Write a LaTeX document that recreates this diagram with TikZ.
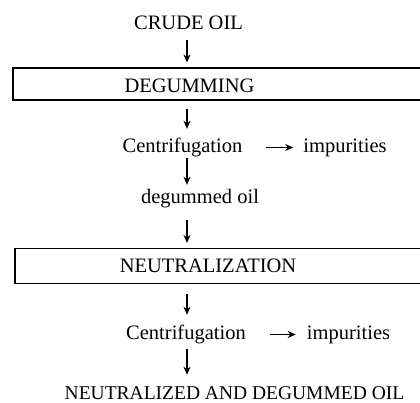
\documentclass[tikz,border=0pt]{standalone}
\usepackage{fontspec}
\setmainfont{Liberation Serif}
\usetikzlibrary{arrows.meta}
\begin{document}
\begin{tikzpicture}[x=1pt,y=-1pt,
  txt/.style={inner sep=0pt,text height=14pt,text depth=5pt,anchor=base,font=\fontsize{20.5}{24}\selectfont},
  procbox/.style={draw,line width=1.1pt,minimum width=412pt,inner sep=0pt},
  arr/.style={line width=1.2pt,-{Stealth[length=8pt,width=7pt,inset=2.5pt]}}]
\useasboundingbox (0,0) rectangle (420,402);
\clip (0,0) rectangle (420,402);
\coordinate (ax) at (187,0);
\node[txt] (crude) at (188.5,29) {CRUDE OIL};
\node[procbox,minimum height=32pt] (degbox) at (219,84) {};
\node[txt] (deg) at (189.5,92) {DEGUMMING};
\node[txt] (cent1) at (182.5,152) {Centrifugation};
\node[txt] (imp1) at (345,152) {impurities};
\node[txt] (degoil) at (200,203) {degummed oil};
\node[procbox,minimum height=35pt] (neubox) at (221,266) {};
\node[txt] (neu) at (208,272) {NEUTRALIZATION};
\node[txt] (cent2) at (186,339) {Centrifugation};
\node[txt] (imp2) at (348.5,339) {impurities};
\node[txt,font=\fontsize{19.5}{24}\selectfont,text depth=0pt] (final) at (234.5,399) {NEUTRALIZED AND DEGUMMED OIL};
\draw[arr,shorten <=6pt,shorten >=5pt] (crude.south -| ax) -- (degbox.north -| ax);
\draw[arr,shorten <=8pt,shorten >=9pt] (degbox.south -| ax) -- (cent1.north -| ax);
\draw[arr,shorten <=1pt,shorten >=4pt] (cent1.south -| ax) -- (degoil.north -| ax);
\draw[arr,shorten <=12pt,shorten >=5pt] (degoil.south -| ax) -- (neubox.north -| ax);
\draw[arr,shorten <=10pt,shorten >=10pt] (neubox.south -| ax) -- (cent2.north -| ax);
\draw[arr,shorten <=5pt,shorten >=10pt] (cent2.south -| ax) -- (final.north -| ax);
\draw[arr,shorten <=24pt,shorten >=10pt] (cent1.east) -- (imp1.west);
\draw[arr,shorten <=24pt,shorten >=11pt] (cent2.east) -- (imp2.west);
\end{tikzpicture}
\end{document}
